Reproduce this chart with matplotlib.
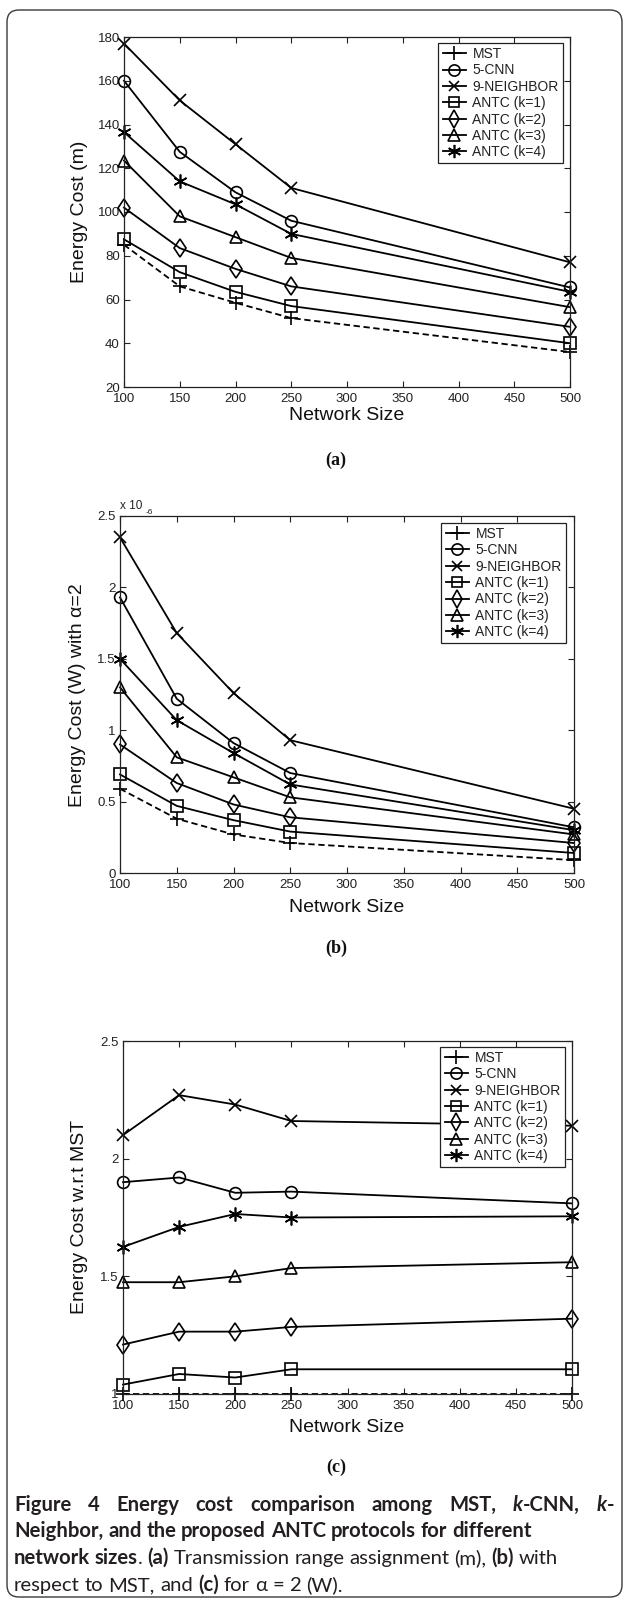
import matplotlib
matplotlib.use('Agg')
import matplotlib.pyplot as plt
from matplotlib.lines import Line2D
from matplotlib.patches import FancyBboxPatch
from matplotlib.ticker import FuncFormatter

W, H, DPI = 625, 1600, 100

# ---------------- data ----------------
network_size = [100, 150, 200, 250, 500]
series_names = ['MST', '5-CNN', '9-NEIGHBOR', 'ANTC (k=1)', 'ANTC (k=2)',
                'ANTC (k=3)', 'ANTC (k=4)']

# (a) transmission range assignment (m)
range_mst = [85, 66, 58.5, 51.5, 36]
range_cnn5 = [160, 127.5, 109, 96, 65.5]
range_nb9 = [177, 151, 131, 111, 77]
range_k1 = [87.5, 72.5, 63.5, 57, 40]
range_k2 = [102, 83.5, 74, 66, 47.5]
range_k3 = [123.5, 98, 88.5, 79, 56.5]
range_k4 = [136.5, 114, 103.5, 90, 63.5]

# (b) energy cost (W) with alpha=2, in units of 1e-6
power_mst = [0.59, 0.38, 0.27, 0.21, 0.09]
power_cnn5 = [1.93, 1.22, 0.91, 0.70, 0.32]
power_nb9 = [2.35, 1.68, 1.26, 0.93, 0.45]
power_k1 = [0.69, 0.47, 0.37, 0.29, 0.14]
power_k2 = [0.90, 0.63, 0.48, 0.39, 0.21]
power_k3 = [1.30, 0.81, 0.67, 0.53, 0.27]
power_k4 = [1.50, 1.07, 0.84, 0.62, 0.30]

# (c) energy cost relative to MST
ratio_mst = [1.0, 1.0, 1.0, 1.0, 1.0]
ratio_cnn5 = [1.90, 1.92, 1.855, 1.86, 1.81]
ratio_nb9 = [2.10, 2.27, 2.23, 2.16, 2.14]
ratio_k1 = [1.04, 1.085, 1.07, 1.105, 1.105]
ratio_k2 = [1.21, 1.265, 1.265, 1.285, 1.32]
ratio_k3 = [1.475, 1.475, 1.50, 1.535, 1.56]
ratio_k4 = [1.625, 1.71, 1.765, 1.75, 1.755]

x_ticks = [100, 150, 200, 250, 300, 350, 400, 450, 500]
yticks_a = [20, 40, 60, 80, 100, 120, 140, 160, 180]
yticks_b = [0, 0.5, 1, 1.5, 2, 2.5]
yticks_c = [1, 1.5, 2, 2.5]

# ---------------- style ----------------
plt.rcParams['font.family'] = ['Liberation Sans', 'DejaVu Sans']
LW = 1.3
markers = ['+', 'o', 'x', 's', 'd', '^', (6, 2, 0)]
msizes = [10, 8.5, 8, 8, 9.5, 8.5, 10]
styles = ['--', '-', '-', '-', '-', '-', '-']

fig = plt.figure(figsize=(W / DPI, H / DPI), dpi=DPI)
renderer = fig.canvas.get_renderer()


def fx(x):
    return x / W


def fy(y):
    return 1 - y / H


def make_axes(l, r, t, b):
    return fig.add_axes([fx(l), fy(b), (r - l) / W, (b - t) / H])


def style_axes(ax, yticks, ylim):
    ax.set_xlim(100, 500)
    ax.set_ylim(*ylim)
    ax.set_xticks(x_ticks)
    ax.set_yticks(yticks)
    ax.yaxis.set_major_formatter(FuncFormatter(lambda v, p: '%g' % v))
    ax.tick_params(direction='in', top=True, right=True, length=4,
                   width=0.8, labelsize=9.5, colors='#222222')
    ax.tick_params(axis='x', pad=4.5)
    ax.tick_params(axis='y', pad=3)
    for s in ax.spines.values():
        s.set_linewidth(0.9)
        s.set_color('#222222')


def draw_series(ax, data):
    for vals, m, ms, ls in zip(data, markers, msizes, styles):
        ln, = ax.plot(network_size, vals, color='k', lw=LW, ls=ls, marker=m,
                      ms=ms, mfc='none', mec='k', mew=1.2, clip_on=False)
        if ls == '--':
            ln.set_dashes((3.5, 2))


def add_legend(ax, right, top):
    handles = [Line2D([], [], color='k', lw=LW, marker=m, ms=ms * 0.95,
                      mfc='none', mec='k', mew=1.2)
               for m, ms in zip(markers, msizes)]
    leg = ax.legend(handles, series_names, loc='upper right',
                    bbox_to_anchor=(right, top), bbox_transform=ax.transAxes,
                    frameon=True, fancybox=False, edgecolor='#222222',
                    framealpha=1, borderaxespad=0, fontsize=10,
                    handlelength=1.7, handletextpad=0.45, labelspacing=0.17,
                    borderpad=0.3)
    leg.get_frame().set_linewidth(0.9)
    for t in leg.get_texts():
        t.set_color('#222222')


def labels(xc, xl_y, yl_x, yl_yc, ylabel, panel, panel_y):
    fig.text(fx(xc), fy(xl_y), 'Network Size', ha='center', va='center',
             fontsize=14, color='#111111')
    fig.text(fx(yl_x), fy(yl_yc), ylabel, ha='center', va='center',
             rotation=90, fontsize=14, color='#111111')
    fig.text(fx(336), fy(panel_y), panel, ha='center', va='center',
             fontsize=13, fontweight='bold', family='Liberation Serif',
             color='#111111')


# ---------------- panel (a) ----------------
ax_a = make_axes(124, 570, 37, 387)
style_axes(ax_a, yticks_a, (20, 180))
draw_series(ax_a, [range_mst, range_cnn5, range_nb9, range_k1, range_k2,
                   range_k3, range_k4])
add_legend(ax_a, 0.984, 0.983)
labels(347, 416, 80, 212, 'Energy Cost (m)', '(a)', 460)

# ---------------- panel (b) ----------------
ax_b = make_axes(120, 574, 516, 873)
style_axes(ax_b, yticks_b, (0, 2.5))
draw_series(ax_b, [power_mst, power_cnn5, power_nb9, power_k1, power_k2,
                   power_k3, power_k4])
add_legend(ax_b, 0.982, 0.981)
labels(347, 908, 77, 695, 'Energy Cost (W) with α=2', '(b)', 948)
fig.text(fx(120), fy(509), 'x 10', ha='left', va='baseline', fontsize=8.5,
         color='#222222')
fig.text(fx(146), fy(514), '-6', ha='left', va='baseline', fontsize=6,
         color='#222222')

# ---------------- panel (c) ----------------
ax_c = make_axes(123, 572, 1041, 1394)
style_axes(ax_c, yticks_c, (1, 2.5))
draw_series(ax_c, [ratio_mst, ratio_cnn5, ratio_nb9, ratio_k1, ratio_k2,
                   ratio_k3, ratio_k4])
add_legend(ax_c, 0.984, 0.984)
labels(347, 1428, 80, 1217, 'Energy Cost w.r.t MST', '(c)', 1467)

# ---------------- frame ----------------
frame = FancyBboxPatch((7 / DPI, (H - 1597) / DPI), (622 - 7) / DPI,
                       (1597 - 10) / DPI,
                       boxstyle='round,pad=0,rounding_size=0.12',
                       transform=fig.dpi_scale_trans, fill=False,
                       edgecolor='#3a3a3a', linewidth=1.0)
fig.patches.append(frame)

# ---------------- caption ----------------
CAP_FAMILY = ['Lato', 'DejaVu Sans']
CAP_COLOR = '#231f20'
B = dict(fontweight='bold')
BI = dict(fontweight='bold', fontstyle='italic')
R = dict(fontweight='normal')


def words(s, props):
    return [[(w, props)] for w in s.split(' ')]


line1 = (words('Figure 4 Energy cost comparison among MST,', B)
         + [[('k', BI), ('-CNN,', B)], [('k', BI), ('-', B)]])
line2 = words('Neighbor, and the proposed ANTC protocols for different', B)
line3 = ([[('network', B)], [('sizes', B), ('.', R)], [('(a)', B)]]
         + words('Transmission range assignment (m),', R)
         + [[('(b)', B)], [('with', R)]])
line4 = (words('respect to MST, and', R) + [[('(c)', B)]]
         + words('for α = 2 (W).', R))


def tw(s, size, props):
    t = fig.text(0, 0, s, fontsize=size, family=CAP_FAMILY, **props)
    w = t.get_window_extent(renderer).width
    t.remove()
    return w


def space_w(size, props):
    return tw('n n', size, props) - tw('nn', size, props)


def line_width(line, size):
    total = 0
    for word in line:
        for s, p in word:
            total += tw(s, size, p)
    total += space_w(size, R) * (len(line) - 1)
    return total


# choose size so that line 2 spans its measured width in the reference
cap_size = 10 * 520 / line_width(line2, 10)


def draw_line(line, x0, baseline, size, justify_to=None):
    sp = space_w(size, line[0][0][1])
    gap = sp
    if justify_to is not None:
        natural = line_width(line, size)
        gap = sp + (justify_to - x0 - natural) / (len(line) - 1)
    x = x0
    for i, word in enumerate(line):
        for s, p in word:
            fig.text(fx(x), fy(baseline), s, fontsize=size, family=CAP_FAMILY,
                     color=CAP_COLOR, ha='left', va='baseline', **p)
            x += tw(s, size, p)
        x += gap


draw_line(line1, 14, 1511, cap_size, justify_to=616)
draw_line(line2, 14, 1537, cap_size)
draw_line(line3, 14, 1564, cap_size)
draw_line(line4, 14, 1591, cap_size)

fig.savefig('out.png', dpi=DPI)
